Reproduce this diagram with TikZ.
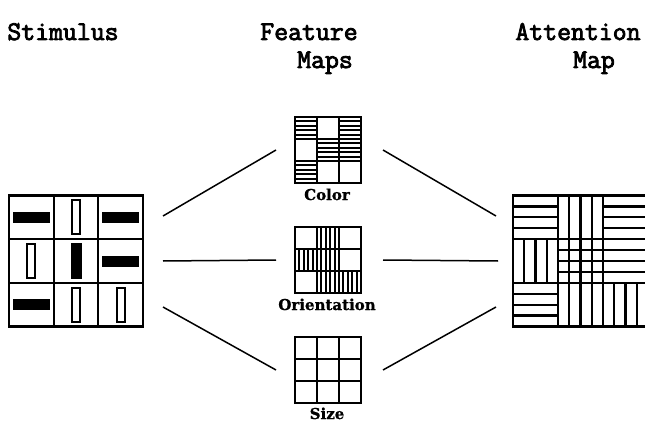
\documentclass[tikz,border=0pt]{standalone}
\usepackage{fontspec}
\usetikzlibrary{calc}
\newfontfamily\titlefont{Latin Modern Mono}[FakeBold=3]
\newfontfamily\labelfont{DejaVu Serif}[FakeBold=1]

% horizontal stripes: x y w h (internal line count)
\newcommand\HStripes[5]{%
  \foreach \k in {1,...,#5}{\draw[stripe] (#1,{#2+\k*#4/(#5+1)}) -- ({#1+#3},{#2+\k*#4/(#5+1)});}}
% vertical stripes: x y w h (internal line count)
\newcommand\VStripes[5]{%
  \foreach \k in {1,...,#5}{\draw[stripe] ({#1+\k*#3/(#5+1)},#2) -- ({#1+\k*#3/(#5+1)},{#2+#4});}}

\tikzset{
  frame/.style={draw, line width=2.4pt, inner sep=0pt, outer sep=0pt},
  divider/.style={line width=2.2pt},
  stripe/.style={line width=1.9pt},
  hbar/.style={fill=black, inner sep=0pt, minimum width=37pt, minimum height=11pt},
  vhollow/.style={draw, line width=1.8pt, inner sep=0pt, minimum width=8pt, minimum height=34pt},
  vfill/.style={fill=black, inner sep=0pt, minimum width=11pt, minimum height=36pt},
  title/.style={font=\titlefont\fontsize{27}{30}\selectfont, anchor=base, inner sep=0pt},
  maplabel/.style={font=\labelfont\bfseries\fontsize{15}{17}\selectfont, anchor=base, inner sep=0pt},
  link/.style={line width=1.5pt},
}

\begin{document}
\begin{tikzpicture}[x=1pt,y=-1pt]
\useasboundingbox (0,0) rectangle (645,425);

% titles
\node[title] (tstim) at (63,40) {Stimulus};
\node[title] (tfeat1) at (309,40) {Feature};
\node[title] (tfeat2) at (325,68) {Maps};
\node[title] (tattn1) at (578,40) {Attention};
\node[title] (tattn2) at (594,68) {Map};

% ---------- stimulus ----------
\node[frame, minimum width=134pt, minimum height=131pt] (stim) at (76,261) {};
\begin{scope}[shift={(stim.north west)}]
  \foreach \t in {1,2}{
    \draw[divider] ({\t*134/3},0) -- ({\t*134/3},131);
    \draw[divider] (0,{\t*131/3}) -- (134,{\t*131/3});
  }
  \def\cx#1{{(#1+0.5)*134/3}}
  \def\cy#1{{(#1+0.5)*131/3}}
  \node[hbar]    (s00) at (\cx0,\cy0) {};
  \node[vhollow] (s10) at (\cx1,\cy0) {};
  \node[hbar]    (s20) at (\cx2,\cy0) {};
  \node[vhollow] (s01) at (\cx0,\cy1) {};
  \node[vfill]   (s11) at (\cx1,\cy1) {};
  \node[hbar]    (s21) at (\cx2,\cy1) {};
  \node[hbar]    (s02) at (\cx0,\cy2) {};
  \node[vhollow] (s12) at (\cx1,\cy2) {};
  \node[vhollow] (s22) at (\cx2,\cy2) {};
\end{scope}

% ---------- feature maps ----------
\foreach \m/\y in {color/150, orient/260, size/370}{
  \node[frame, minimum width=66pt, minimum height=66pt] (\m) at (328,\y) {};
  \begin{scope}[shift={(\m.north west)}]
    \foreach \t in {1,2}{
      \draw[divider] ({\t*22},0) -- ({\t*22},66);
      \draw[divider] (0,{\t*22}) -- (66,{\t*22});
    }
  \end{scope}
}
% colour map: horizontal stripes
\begin{scope}[shift={(color.north west)}]
  \foreach \c/\r in {0/0, 2/0, 1/1, 2/1, 0/2}{
    \HStripes{\c*22}{\r*22}{22}{22}{4}
  }
\end{scope}
% orientation map: vertical stripes
\begin{scope}[shift={(orient.north west)}]
  \foreach \c/\r in {1/0, 0/1, 1/1, 1/2, 2/2}{
    \VStripes{\c*22}{\r*22}{22}{22}{4}
  }
\end{scope}

\node[maplabel] (lcolor) at (327,200) {Color};
\node[maplabel] (lorient) at (327,310) {Orientation};
\node[maplabel] (lsize) at (327,419) {Size};

% ---------- attention map ----------
\node[frame, minimum width=135pt, minimum height=131pt] (attn) at (580.5,261) {};
\begin{scope}[shift={(attn.north west)}, stripe/.style={line width=2.3pt}]
  \def\cw{45}
  \def\ch{43.667}
  \foreach \t in {1,2}{
    \draw[divider] ({\t*\cw},0) -- ({\t*\cw},131);
    \draw[divider] (0,{\t*\ch}) -- (135,{\t*\ch});
  }
  \foreach \c/\r in {0/0, 2/0, 1/1, 2/1, 0/2}{
    \HStripes{\c*\cw}{\r*\ch}{\cw}{\ch}{3}
  }
  \foreach \c/\r in {1/0, 0/1, 1/1, 1/2, 2/2}{
    \VStripes{\c*\cw}{\r*\ch}{\cw}{\ch}{3}
  }
\end{scope}

% ---------- connectors ----------
\draw[link] ($(stim.east)+(20,-45)$) -- ($(color.west)+(-19,0)$);
\draw[link] ($(stim.east)+(20,0)$)   -- ($(orient.west)+(-19,0)$);
\draw[link] ($(stim.east)+(20,46)$)  -- ($(size.west)+(-19,0)$);
\draw[link] ($(color.east)+(22,0)$)  -- ($(attn.west)+(-17,-45)$);
\draw[link] ($(orient.east)+(22,0)$) -- ($(attn.west)+(-15,0)$);
\draw[link] ($(size.east)+(22,0)$)   -- ($(attn.west)+(-17,46)$);
\end{tikzpicture}
\end{document}
